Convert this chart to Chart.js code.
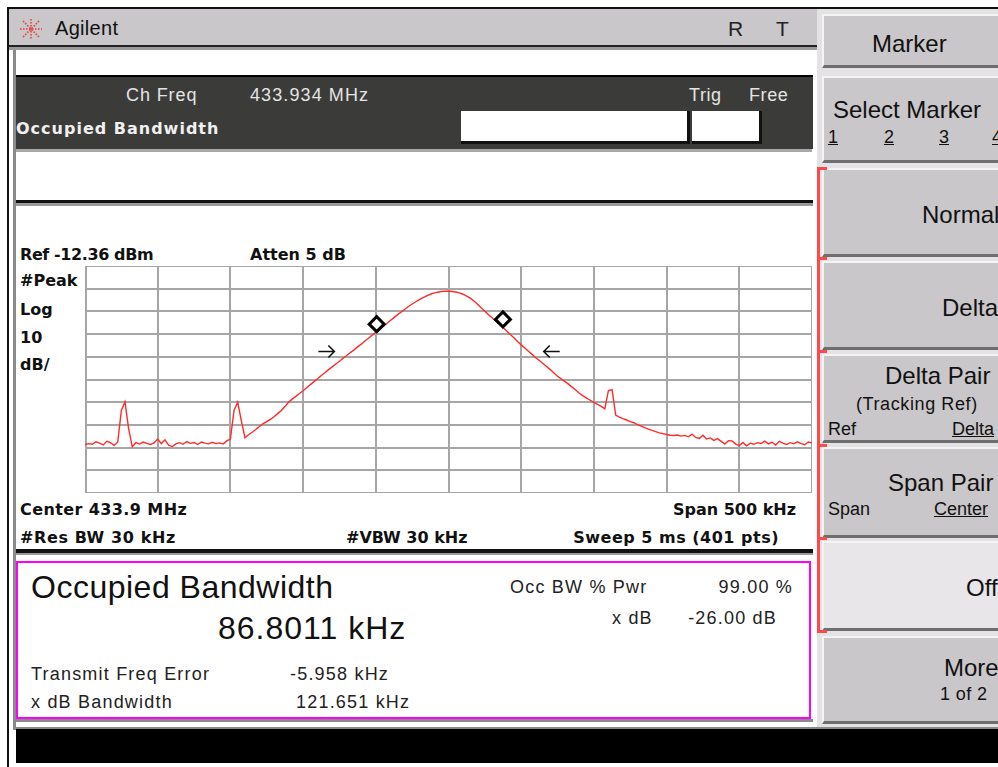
<!DOCTYPE html>
<html>
<head>
<meta charset="utf-8">
<script src="https://cdn.jsdelivr.net/npm/chart.js@4.4.1/dist/chart.umd.min.js"></script>
<style>
  html,body{margin:0;padding:0;background:#fff;}
  body{width:998px;height:767px;position:relative;overflow:hidden;font-family:"Liberation Sans",Arial,sans-serif;}
  .abs{position:absolute;}
  .t{position:absolute;white-space:nowrap;line-height:1;}
  .b{font-family:"DejaVu Sans",sans-serif;font-weight:bold;font-size:16px;color:#111;}
  .r{font-size:18px;color:#222;letter-spacing:1.2px;}
  .soft{position:absolute;left:822px;width:180px;background:#c9c7c9;border-top:2px solid #f4f4f4;border-left:2px solid #f4f4f4;border-bottom:3px solid #6e6e6e;box-sizing:border-box;}
  .sk{position:absolute;font-size:24px;color:#111;white-space:nowrap;line-height:1;}
  .ss{position:absolute;font-size:18px;color:#111;white-space:nowrap;line-height:1;}
  .u{text-decoration:underline;}
</style>
</head>
<body>
<!-- frame -->
<div class="abs" style="left:7px;top:7px;width:991px;height:2px;background:#111;"></div>
<div class="abs" style="left:7px;top:7px;width:2px;height:760px;background:#111;"></div>
<!-- title bar -->
<div class="abs" style="left:9px;top:9px;width:808px;height:36px;background:#c9c7c9;"></div>
<svg class="abs" style="left:19px;top:18px" width="24" height="22" viewBox="0 0 24 22">
  <g stroke="#e84040" stroke-width="1.6" stroke-dasharray="1.6 1.4" fill="none">
    <line x1="12" y1="1" x2="12" y2="21"/>
    <line x1="1" y1="11" x2="23" y2="11"/>
    <line x1="4" y1="3" x2="20" y2="19"/>
    <line x1="20" y1="3" x2="4" y2="19"/>
  </g>
</svg>
<div class="t" style="left:55px;top:18px;font-size:20px;color:#111;letter-spacing:0.3px;">Agilent</div>
<div class="t" style="left:728px;top:18px;font-size:21px;color:#222;">R</div>
<div class="t" style="left:776px;top:18px;font-size:21px;color:#222;">T</div>
<div class="abs" style="left:9px;top:45px;width:808px;height:2px;background:#222;"></div>
<div class="abs" style="left:9px;top:47px;width:808px;height:3px;background:#9a9a9a;"></div>
<div class="abs" style="left:13px;top:50px;width:3px;height:680px;background:#8a8a8a;"></div>
<!-- white strip -->
<div class="abs" style="left:16px;top:50px;width:796px;height:25px;background:#fff;"></div>
<!-- dark header -->
<div class="abs" style="left:16px;top:75px;width:797px;height:74px;background:#3b3c39;border-top:2px solid #000;box-sizing:border-box;"></div>
<div class="t" style="left:126px;top:86px;font-size:18px;color:#e4e4e4;letter-spacing:0.9px;">Ch Freq</div>
<div class="t" style="left:250px;top:86px;font-size:18px;color:#e4e4e4;letter-spacing:1.1px;">433.934 MHz</div>
<div class="t" style="left:689px;top:86px;font-size:18px;color:#e4e4e4;letter-spacing:0.6px;">Trig</div>
<div class="t" style="left:749px;top:86px;font-size:18px;color:#e4e4e4;letter-spacing:0.6px;">Free</div>
<div class="t b" style="left:16px;top:121px;color:#f0f0f0;letter-spacing:1px;">Occupied Bandwidth</div>
<div class="abs" style="left:461px;top:111px;width:229px;height:33px;background:#fff;border-right:3px solid #111;border-bottom:3px solid #111;box-sizing:border-box;"></div>
<div class="abs" style="left:692px;top:111px;width:70px;height:33px;background:#fff;border-right:3px solid #111;border-bottom:3px solid #111;box-sizing:border-box;"></div>
<div class="abs" style="left:16px;top:149px;width:796px;height:3px;background:#a8a8a8;"></div>
<!-- white area -->
<div class="abs" style="left:16px;top:200px;width:797px;height:3px;background:#111;"></div>
<div class="abs" style="left:16px;top:203px;width:797px;height:3px;background:#9a9a9a;"></div>
<!-- graph annotations -->
<div class="t b" style="left:20px;top:247px;letter-spacing:-0.4px;">Ref -12.36 dBm</div>
<div class="t b" style="left:250px;top:247px;">Atten 5 dB</div>
<div class="t b" style="left:20px;top:273px;">#Peak</div>
<div class="t b" style="left:20px;top:302px;">Log</div>
<div class="t b" style="left:20px;top:330px;">10</div>
<div class="t b" style="left:20px;top:357px;">dB/</div>
<div class="t b" style="left:20px;top:502px;letter-spacing:0.4px;">Center 433.9 MHz</div>
<div class="t b" style="right:202px;top:502px;">Span 500 kHz</div>
<div class="t b" style="left:20px;top:530px;letter-spacing:0.6px;">#Res BW 30 kHz</div>
<div class="t b" style="left:346px;top:530px;">#VBW 30 kHz</div>
<div class="t b" style="right:219px;top:530px;letter-spacing:0.5px;">Sweep 5 ms (401 pts)</div>
<div class="abs" style="left:16px;top:549px;width:797px;height:4px;background:#111;"></div>
<div class="abs" style="left:16px;top:553px;width:797px;height:2px;background:#9a9a9a;"></div>
<!-- chart -->
<div class="abs" id="wrap" style="left:85px;top:266px;width:727px;height:227px;">
  <canvas id="c"></canvas>
</div>
<!-- results box -->
<div class="abs" style="left:16px;top:561px;width:795px;height:158px;border:2px solid #ff00ff;box-sizing:border-box;"></div>
<div class="t" style="left:31px;top:571px;font-size:32px;color:#111;letter-spacing:0.5px;">Occupied Bandwidth</div>
<div class="t" style="left:218px;top:612px;font-size:32px;color:#111;letter-spacing:1px;">86.8011 kHz</div>
<div class="t r" style="left:510px;top:578px;">Occ BW % Pwr</div>
<div class="t r" style="right:205px;top:578px;">99.00 %</div>
<div class="t r" style="left:612px;top:609px;">x dB</div>
<div class="t r" style="right:221px;top:609px;">-26.00 dB</div>
<div class="t r" style="left:31px;top:665px;">Transmit Freq Error</div>
<div class="t r" style="left:290px;top:665px;">-5.958 kHz</div>
<div class="t r" style="left:31px;top:693px;">x dB Bandwidth</div>
<div class="t r" style="left:296px;top:693px;">121.651 kHz</div>
<div class="abs" style="left:16px;top:719px;width:797px;height:3px;background:#8a8a8a;"></div>
<!-- bottom bar -->
<div class="abs" style="left:13px;top:727px;width:985px;height:2px;background:#888;"></div>
<div class="abs" style="left:16px;top:729px;width:982px;height:34px;background:#000;"></div>
<!-- softkeys -->
<div class="abs" style="left:817px;top:9px;width:181px;height:718px;background:#e4e2e4;"></div>
<div class="soft" style="top:14px;height:54px;"><div class="sk" style="left:48px;top:16px;">Marker</div></div>
<div class="soft" style="top:76px;height:87px;">
  <div class="sk" style="left:9px;top:20px;">Select Marker</div>
  <div class="ss u" style="left:4px;top:50px;">1</div>
  <div class="ss u" style="left:60px;top:50px;">2</div>
  <div class="ss u" style="left:115px;top:50px;">3</div>
  <div class="ss u" style="left:168px;top:50px;">4</div>
</div>
<div class="soft" style="top:168px;height:89px;"><div class="sk" style="left:98px;top:33px;">Normal</div></div>
<div class="soft" style="top:261px;height:89px;"><div class="sk" style="left:118px;top:33px;">Delta</div></div>
<div class="soft" style="top:354px;height:89px;">
  <div class="sk" style="left:61px;top:8px;">Delta Pair</div>
  <div class="ss" style="left:32px;top:39px;letter-spacing:0.6px;">(Tracking Ref)</div>
  <div class="ss" style="left:4px;top:64px;">Ref</div>
  <div class="ss u" style="left:128px;top:64px;">Delta</div>
</div>
<div class="soft" style="top:447px;height:91px;">
  <div class="sk" style="left:64px;top:22px;">Span Pair</div>
  <div class="ss" style="left:4px;top:51px;">Span</div>
  <div class="ss u" style="left:110px;top:51px;">Center</div>
</div>
<div class="soft" style="top:541px;height:90px;background:#e8e6e8;"><div class="sk" style="left:142px;top:33px;">Off</div></div>
<div class="soft" style="top:636px;height:88px;">
  <div class="sk" style="left:120px;top:18px;">More</div>
  <div class="ss" style="left:116px;top:47px;letter-spacing:0.4px;">1 of 2</div>
</div>
<!-- red bracket -->
<div class="abs" style="left:817px;top:167px;width:3px;height:466px;background:#ff4848;"></div>
<div class="abs" style="left:817px;top:167px;width:10px;height:3px;background:#ff4848;"></div>
<div class="abs" style="left:817px;top:257px;width:10px;height:3px;background:#ff4848;"></div>
<div class="abs" style="left:817px;top:350px;width:10px;height:3px;background:#ff4848;"></div>
<div class="abs" style="left:817px;top:444px;width:10px;height:3px;background:#ff4848;"></div>
<div class="abs" style="left:817px;top:537px;width:10px;height:3px;background:#ff4848;"></div>
<div class="abs" style="left:817px;top:630px;width:10px;height:3px;background:#ff4848;"></div>

<script>
// ---- data ----
const centerMHz = 433.9;
const spanKHz = 500;
const startKHz = -250;      // offset from center, kHz
const stepKHz = 2.5;        // trace point spacing, kHz
const refLevelDBm = -12.36;
const dbPerDiv = 10;
const divisions = 10;
// trace levels (dBm), one per point from -250 kHz to +250 kHz
const traceDBm = [
 -91.0,-90.6,-90.9,-89.8,-90.4,-91.2,-89.6,-90.2,-91.4,-90.0,
 -76.0,-72.2,-84.0,-92.0,-90.2,-90.8,-89.9,-90.5,-91.0,-90.3,
 -88.6,-90.6,-88.9,-91.3,-91.9,-90.7,-90.2,-90.9,-89.7,-90.5,
 -90.1,-91.0,-89.9,-90.4,-90.7,-90.0,-90.6,-90.3,-90.8,-89.4,
 -88.6,-76.0,-72.3,-80.5,-88.0,-86.7,-85.6,-84.4,-83.1,-81.8,
 -80.9,-79.9,-78.8,-77.4,-76.0,-74.3,-72.4,-71.0,-69.8,-68.5,
 -67.3,-66.0,-64.6,-63.3,-62.0,-60.6,-59.4,-58.0,-56.8,-55.5,
 -54.3,-53.0,-51.8,-50.5,-49.3,-48.0,-46.8,-45.4,-44.2,-42.8,
 -41.6,-40.4,-39.0,-37.7,-36.4,-35.1,-33.8,-32.6,-31.4,-30.2,
 -29.1,-28.1,-27.2,-26.3,-25.5,-24.8,-24.3,-23.9,-23.6,-23.5,
 -23.5,-23.6,-23.8,-24.2,-24.8,-25.6,-26.5,-27.8,-29.2,-30.8,
 -32.3,-33.8,-35.2,-36.6,-38.0,-39.4,-41.0,-42.5,-44.0,-45.6,
 -47.1,-48.5,-49.9,-51.3,-52.8,-54.0,-55.3,-56.6,-58.0,-59.5,
 -60.9,-62.1,-63.2,-64.4,-65.7,-67.0,-68.4,-69.6,-70.6,-71.5,
 -72.4,-73.3,-74.2,-75.3,-67.2,-66.8,-78.0,-78.9,-79.6,-80.2,
 -80.9,-81.4,-82.2,-82.9,-83.6,-84.2,-84.8,-85.3,-85.9,-86.2,
 -86.6,-86.9,-87.0,-86.8,-87.3,-87.0,-87.6,-86.4,-87.9,-88.3,
 -86.9,-88.6,-88.1,-89.2,-88.4,-89.6,-90.8,-89.3,-89.4,-90.8,
 -91.5,-90.1,-91.6,-90.4,-90.9,-90.2,-90.6,-89.5,-90.7,-90.0,
 -91.2,-89.6,-90.4,-91.0,-90.2,-90.7,-89.8,-90.6,-91.1,-89.9,
 -90.3
];
// OBW markers (kHz offset, dBm)
const markerKHz = [-49.4, 37.4];
const markerDBm = [-41.5, -39.4];
// x dB bandwidth arrows (kHz offset, dBm level, direction)
const arrowKHz = [-84, 71];
const arrowDBm = [-50.0, -50.0];
const arrowDir = [1, -1];

// ---- build ----
const points = traceDBm.map((v, i) => ({ x: startKHz + i * stepKHz, y: v }));
const bottomDBm = refLevelDBm - dbPerDiv * divisions;
const yTicks = [];
for (let k = 0; k <= divisions; k++) yTicks.push({ value: bottomDBm + k * dbPerDiv });
const xTicks = [];
for (let k = 0; k <= divisions; k++) xTicks.push({ value: startKHz + k * spanKHz / divisions });

const overlay = {
  id: 'overlay',
  afterDatasetsDraw(chart) {
    const { ctx, scales: { x, y } } = chart;
    ctx.save();
    // arrows
    ctx.strokeStyle = '#111';
    ctx.lineWidth = 1.6;
    arrowKHz.forEach((f, i) => {
      const px = x.getPixelForValue(f), py = y.getPixelForValue(arrowDBm[i]);
      const d = arrowDir[i];
      ctx.beginPath();
      ctx.moveTo(px - 8 * d, py); ctx.lineTo(px + 8 * d, py);
      ctx.moveTo(px + 2 * d, py - 6); ctx.lineTo(px + 8 * d, py); ctx.lineTo(px + 2 * d, py + 6);
      ctx.stroke();
    });
    // diamonds
    markerKHz.forEach((f, i) => {
      const px = x.getPixelForValue(f), py = y.getPixelForValue(markerDBm[i]) - 8;
      ctx.beginPath();
      ctx.moveTo(px, py - 7.5); ctx.lineTo(px + 7.5, py); ctx.lineTo(px, py + 7.5); ctx.lineTo(px - 7.5, py); ctx.closePath();
      ctx.fillStyle = '#fff'; ctx.fill();
      ctx.lineWidth = 3; ctx.strokeStyle = '#000'; ctx.stroke();
    });
    ctx.restore();
  }
};

new Chart(document.getElementById('c'), {
  type: 'line',
  data: { datasets: [{ data: points, borderColor: '#ff2a2a', borderWidth: 1.4, pointRadius: 0, tension: 0, fill: false }] },
  options: {
    responsive: true, maintainAspectRatio: false, animation: false,
    layout: { padding: 0 },
    plugins: { legend: { display: false }, tooltip: { enabled: false } },
    scales: {
      x: { type: 'linear', min: startKHz, max: startKHz + spanKHz,
           afterBuildTicks: a => { a.ticks = xTicks.map(t => ({ value: t.value })); },
           ticks: { display: false }, grid: { color: '#a6a6a6', lineWidth: 2, drawTicks: false },
           border: { display: true, color: '#a6a6a6', width: 3 } },
      y: { min: bottomDBm, max: refLevelDBm,
           afterBuildTicks: a => { a.ticks = yTicks.map(t => ({ value: t.value })); },
           ticks: { display: false }, grid: { color: '#a6a6a6', lineWidth: 2, drawTicks: false },
           border: { display: true, color: '#a6a6a6', width: 3 } }
    }
  },
  plugins: [overlay]
});
</script>
</body>
</html>
